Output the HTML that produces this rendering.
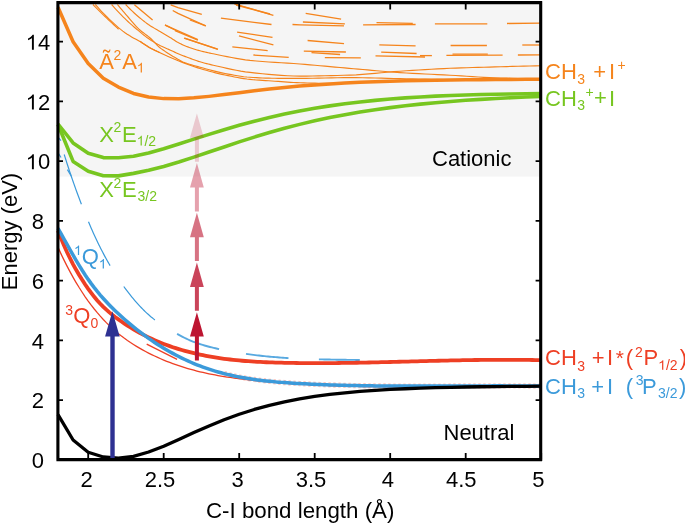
<!DOCTYPE html>
<html><head><meta charset="utf-8"><style>
html,body{margin:0;padding:0;background:#fff;}
svg{display:block;will-change:transform;}
text{font-family:"Liberation Sans",sans-serif;}
.t{opacity:0.999;}
</style></head><body>
<svg width="685" height="523" viewBox="0 0 685 523">
<rect x="59" y="4" width="481" height="172.6" fill="#f5f5f5"/>
<path d="M125.6,4.5 L126.99,5.94 L128.38,7.35 L129.76,8.74 L131.15,10.09 L132.54,11.42 L133.92,12.71 L135.31,13.97 L136.7,15.2 L138.16,16.47 L139.62,17.71 L141.09,18.93 L142.55,20.12 L144.01,21.28 L145.47,22.4 L146.94,23.47 L148.4,24.5 L149.85,25.47 L151.3,26.39 L152.75,27.27 L154.2,28.13 L155.65,28.97 L157.1,29.81 L158.55,30.65 L160,31.5 L161.25,32.24 L162.5,32.97 L163.75,33.7 L165,34.43 L166.25,35.16 L167.5,35.9 L168.75,36.64 L170,37.4 L171.03,38.04 L172.05,38.72 L173.07,39.4 L174.1,40.09 L175.12,40.76 L176.15,41.41 L177.17,42.03 L178.2,42.6 L179.4,43.22 L180.6,43.81 L181.8,44.39 L183,44.93 L184.2,45.46 L185.4,45.96 L186.6,46.44 L187.8,46.9 L189.33,47.46 L190.85,48 L192.38,48.52 L193.9,49.02 L195.43,49.49 L196.95,49.95 L198.47,50.38 L200,50.8 L201.65,51.23 L203.3,51.64 L204.95,52.03 L206.6,52.4 L208.25,52.76 L209.9,53.12 L211.55,53.46 L213.2,53.8 L217.8,54.75 L222.4,55.71 L227,56.65 L231.6,57.56 L236.2,58.41 L240.8,59.18 L245.4,59.85 L250,60.4 L256.25,61 L262.5,61.52 L268.75,61.96 L275,62.36 L281.25,62.74 L287.5,63.13 L293.75,63.54 L300,64 L305,64.41 L310,64.83 L315,65.26 L320,65.71 L325,66.16 L330,66.61 L335,67.06 L340,67.5 L344.56,67.9 L349.12,68.31 L353.69,68.71 L358.25,69.12 L362.81,69.52 L367.38,69.92 L371.94,70.31 L376.5,70.7 L379.44,70.95 L382.38,71.2 L385.31,71.46 L388.25,71.71 L391.19,71.95 L394.12,72.18 L397.06,72.4 L400,72.6 L406.25,72.99 L412.5,73.33 L418.75,73.66 L425,73.96 L431.25,74.26 L437.5,74.56 L443.75,74.87 L450,75.2 L455.62,75.53 L461.25,75.89 L466.88,76.26 L472.5,76.63 L478.12,76.99 L483.75,77.31 L489.38,77.59 L495,77.8 L500.75,77.98 L506.5,78.15 L512.25,78.32 L518,78.46 L523.75,78.59 L529.5,78.69 L535.25,78.76 L541,78.8" fill="none" stroke="#f5841c" stroke-width="1.15" stroke-linejoin="round" />
<path d="M111.6,4.5 L113.27,6.4 L114.95,8.27 L116.62,10.1 L118.3,11.9 L119.97,13.65 L121.65,15.37 L123.33,17.06 L125,18.7 L126.46,20.1 L127.92,21.47 L129.39,22.82 L130.85,24.14 L132.31,25.43 L133.77,26.7 L135.24,27.96 L136.7,29.2 L138.16,30.43 L139.62,31.66 L141.09,32.88 L142.55,34.08 L144.01,35.25 L145.47,36.38 L146.94,37.47 L148.4,38.5 L149.85,39.48 L151.3,40.43 L152.75,41.36 L154.2,42.25 L155.65,43.12 L157.1,43.95 L158.55,44.74 L160,45.5 L161.09,46.04 L162.18,46.55 L163.26,47.04 L164.35,47.52 L165.44,47.98 L166.52,48.45 L167.61,48.92 L168.7,49.4 L169.89,49.94 L171.07,50.49 L172.26,51.03 L173.45,51.58 L174.64,52.13 L175.82,52.66 L177.01,53.19 L178.2,53.7 L179.4,54.2 L180.6,54.7 L181.8,55.18 L183,55.66 L184.2,56.13 L185.4,56.59 L186.6,57.05 L187.8,57.5 L189.33,58.07 L190.85,58.64 L192.38,59.21 L193.9,59.77 L195.43,60.31 L196.95,60.83 L198.47,61.33 L200,61.8 L201.65,62.28 L203.3,62.74 L204.95,63.19 L206.6,63.62 L208.25,64.03 L209.9,64.43 L211.55,64.82 L213.2,65.2 L217.8,66.25 L222.4,67.31 L227,68.35 L231.6,69.34 L236.2,70.26 L240.8,71.1 L245.4,71.82 L250,72.4 L256.25,73.08 L262.5,73.75 L268.75,74.38 L275,74.94 L281.25,75.41 L287.5,75.78 L293.75,76.02 L300,76.1 L306.25,76.08 L312.5,76.02 L318.75,75.92 L325,75.8 L331.25,75.65 L337.5,75.48 L343.75,75.3 L350,75.1 L356.25,74.83 L362.5,74.42 L368.75,73.93 L375,73.37 L381.25,72.78 L387.5,72.2 L393.75,71.66 L400,71.2 L406.25,70.78 L412.5,70.37 L418.75,69.97 L425,69.59 L431.25,69.22 L437.5,68.88 L443.75,68.57 L450,68.3 L455.62,68.08 L461.25,67.89 L466.88,67.7 L472.5,67.53 L478.12,67.37 L483.75,67.21 L489.38,67.06 L495,66.9 L500.75,66.74 L506.5,66.58 L512.25,66.42 L518,66.27 L523.75,66.12 L529.5,65.98 L535.25,65.84 L541,65.7" fill="none" stroke="#f5841c" stroke-width="1.15" stroke-linejoin="round" />
<path d="M117.4,4.5 L118.79,6.16 L120.18,7.81 L121.56,9.45 L122.95,11.08 L124.34,12.7 L125.72,14.31 L127.11,15.91 L128.5,17.5 L129.81,19.02 L131.12,20.56 L132.44,22.1 L133.75,23.63 L135.06,25.12 L136.38,26.56 L137.69,27.93 L139,29.2 L140.46,30.5 L141.93,31.69 L143.39,32.82 L144.85,33.9 L146.31,34.98 L147.77,36.08 L149.24,37.25 L150.7,38.5 L151.75,39.49 L152.8,40.56 L153.85,41.68 L154.9,42.82 L155.95,43.95 L157,45.04 L158.05,46.07 L159.1,47 L160.3,47.97 L161.5,48.88 L162.7,49.74 L163.9,50.57 L165.1,51.37 L166.3,52.16 L167.5,52.93 L168.7,53.7 L169.89,54.46 L171.07,55.2 L172.26,55.93 L173.45,56.64 L174.64,57.35 L175.82,58.04 L177.01,58.72 L178.2,59.4 L178.8,59.74 L179.4,60.1 L180,60.45 L180.6,60.79 L181.2,61.13 L181.8,61.44 L182.4,61.74 L183,62 L185.12,62.83 L187.25,63.58 L189.38,64.26 L191.5,64.89 L193.62,65.48 L195.75,66.05 L197.88,66.62 L200,67.2 L203.12,68.07 L206.25,68.94 L209.38,69.79 L212.5,70.63 L215.62,71.42 L218.75,72.17 L221.88,72.87 L225,73.5 L228.12,74.1 L231.25,74.69 L234.38,75.26 L237.5,75.79 L240.62,76.28 L243.75,76.71 L246.88,77.05 L250,77.3 L253.12,77.49 L256.25,77.67 L259.38,77.83 L262.5,77.98 L265.62,78.1 L268.75,78.19 L271.88,78.26 L275,78.3 L278.12,78.32 L281.25,78.34 L284.38,78.36 L287.5,78.37 L290.62,78.38 L293.75,78.39 L296.88,78.4 L300,78.4 L306.25,78.37 L312.5,78.28 L318.75,78.15 L325,78 L331.25,77.85 L337.5,77.72 L343.75,77.63 L350,77.6 L356.25,77.63 L362.5,77.71 L368.75,77.83 L375,77.98 L381.25,78.14 L387.5,78.31 L393.75,78.47 L400,78.6 L406.25,78.73 L412.5,78.87 L418.75,79.02 L425,79.17 L431.25,79.3 L437.5,79.4 L443.75,79.47 L450,79.5 L461.38,79.5 L472.75,79.5 L484.12,79.48 L495.5,79.46 L506.88,79.43 L518.25,79.37 L529.62,79.3 L541,79.2" fill="none" stroke="#f5841c" stroke-width="1.15" stroke-linejoin="round" />
<path d="M95.3,4.5 L96.83,6.24 L98.35,7.95 L99.88,9.63 L101.4,11.28 L102.92,12.9 L104.45,14.47 L105.97,16.01 L107.5,17.5 L109.69,19.6 L111.88,21.66 L114.06,23.69 L116.25,25.66 L118.44,27.56 L120.62,29.37 L122.81,31.09 L125,32.7 L127.2,34.19 L129.4,35.58 L131.6,36.88 L133.8,38.14 L136,39.37 L138.2,40.6 L140.4,41.87 L142.6,43.2 L143.47,43.76 L144.35,44.33 L145.22,44.92 L146.1,45.5 L146.97,46.08 L147.85,46.65 L148.72,47.19 L149.6,47.7 L150.9,48.41 L152.2,49.09 L153.5,49.74 L154.8,50.37 L156.1,50.99 L157.4,51.59 L158.7,52.2 L160,52.8 L161.09,53.31 L162.18,53.81 L163.26,54.3 L164.35,54.79 L165.44,55.27 L166.52,55.75 L167.61,56.23 L168.7,56.7 L170.49,57.47 L172.27,58.24 L174.06,58.99 L175.85,59.75 L177.64,60.48 L179.43,61.21 L181.21,61.91 L183,62.6 L185.12,63.4 L187.25,64.19 L189.38,64.96 L191.5,65.72 L193.62,66.45 L195.75,67.16 L197.88,67.85 L200,68.5 L203.12,69.43 L206.25,70.32 L209.38,71.19 L212.5,72.03 L215.62,72.83 L218.75,73.6 L221.88,74.32 L225,75 L228.12,75.66 L231.25,76.31 L234.38,76.94 L237.5,77.54 L240.62,78.09 L243.75,78.6 L246.88,79.04 L250,79.4 L253.12,79.7 L256.25,79.96 L259.38,80.19 L262.5,80.41 L265.62,80.61 L268.75,80.8 L271.88,81 L275,81.2 L278.12,81.42 L281.25,81.66 L284.38,81.9 L287.5,82.13 L290.62,82.34 L293.75,82.53 L296.88,82.69 L300,82.8 L303.75,82.9 L307.5,82.99 L311.25,83.08 L315,83.15 L318.75,83.21 L322.5,83.26 L326.25,83.29 L330,83.3 L335,83.25 L340,83.11 L345,82.91 L350,82.67 L355,82.41 L360,82.16 L365,81.95 L370,81.8 L391.38,81.31 L412.75,80.85 L434.12,80.43 L455.5,80.06 L476.88,79.74 L498.25,79.51 L519.62,79.35 L541,79.3" fill="none" stroke="#f5841c" stroke-width="1.15" stroke-linejoin="round" />
<path d="M92.9,4.5 L94.41,6.04 L95.93,7.56 L97.44,9.08 L98.95,10.59 L100.46,12.08 L101.97,13.57 L103.49,15.04 L105,16.5 L106.7,18.13 L108.4,19.75 L110.1,21.36 L111.8,22.95 L113.5,24.53 L115.2,26.1 L116.9,27.66 L118.6,29.2" fill="none" stroke="#f5841c" stroke-width="1.15" stroke-linejoin="round" />
<path d="M140,41.2 L141.2,42.08 L142.4,42.93 L143.6,43.77 L144.8,44.57 L146,45.35 L147.2,46.1 L148.4,46.82 L149.6,47.5 L150.9,48.21 L152.2,48.9 L153.5,49.57 L154.8,50.22 L156.1,50.83 L157.4,51.42 L158.7,51.98 L160,52.5" fill="none" stroke="#f5841c" stroke-width="1.15" stroke-linejoin="round" />
<g fill="none" stroke="#f5841c" stroke-width="1.3">
<path d="M134.4,4.8 L152.6,20.1"/>
<path d="M165,24.8 L178,31.5"/>
<path d="M170.7,4.8 L178,7.6 L201.8,14.3"/>
<path d="M172.7,10.5 L178,13.4 L205.6,25.8"/>
<path d="M175,30.6 L197.9,40.1"/>
<path d="M184.6,38.2 L218,49.3"/>
<path d="M165,25.1 L197.9,39.7"/>
<path d="M184,38.2 L217.6,49.2"/>
<path d="M189.9,20 L205.9,25.8"/>
<path d="M234.3,3.8 L273.4,15.3"/>
<path d="M236,5 L270,14"/>
<path d="M220.9,18.2 L271.5,24.5"/>
<path d="M237.1,32.1 L272.5,37.3"/>
<path d="M239,35.9 L273.4,44.9"/>
<path d="M232.3,46.8 L267.7,50.6"/>
<path d="M253.4,55 L288.7,57.3"/>
<path d="M292.5,24.5 L300,24.8 L344,25.8"/>
<path d="M305.7,13.4 L341.1,19.1"/>
<path d="M302.9,22 L344.9,23.9"/>
<path d="M363.1,24.8 L415.6,24.5"/>
<path d="M376.5,22.6 L412.8,23.3"/>
<path d="M307.6,40.5 L344,43.6"/>
<path d="M379.3,44.9 L415.6,45.9"/>
<path d="M303.8,51.2 L345.9,52"/>
<path d="M311.5,52.6 L340.1,54.5"/>
<path d="M324.8,57.7 L360.8,57.9"/>
<path d="M381.2,52.2 L416.6,53.5"/>
<path d="M375.5,55.8 L425,57"/>
<path d="M434.9,23.9 L487.3,23.9"/>
<path d="M507,23.5 L540,23.2"/>
<path d="M450.6,45.5 L486.9,45.5"/>
<path d="M522.3,45 L540,45"/>
<path d="M420,55.6 L431.9,55.6"/>
<path d="M446.4,55.4 L502.6,55.2"/>
<path d="M517.9,55 L540,54.8"/>
<path d="M452.5,54.1 L487.8,54.1"/>
</g>
<path d="M58,7.3 L73.1,41.8 L88.2,63.5 L103.3,78.3 L118.4,87.1 L133.5,93.44 L148.6,97.02 L163.7,98.62 L178.8,98.74 L193.9,97.86 L209,96.37 L224.1,94.56 L239.2,92.65 L254.3,90.79 L269.4,89.05 L284.5,87.48 L299.6,86.1 L314.7,84.91 L329.8,83.9 L344.9,83.04 L360,82.32 L375.1,81.73 L390.2,81.23 L405.3,80.83 L420.4,80.49 L435.5,80.22 L450.6,80 L465.7,79.81 L480.8,79.66 L495.9,79.54 L511,79.44 L526.1,79.36 L541.2,79.3" fill="none" stroke="#f5841c" stroke-width="3.5" stroke-linejoin="round"/>
<path d="M58,124 L73.1,142.9 L88.2,153.2 L103.3,157.6 L118.4,157.8 L133.5,156.24 L148.6,152.9 L163.7,148.69 L178.8,144.01 L193.9,139.16 L209,134.34 L224.1,129.69 L239.2,125.29 L254.3,121.2 L269.4,117.44 L284.5,114.03 L299.6,110.97 L314.7,108.25 L329.8,105.85 L344.9,103.75 L360,101.93 L375.1,100.36 L390.2,99.02 L405.3,97.89 L420.4,96.93 L435.5,96.14 L450.6,95.48 L465.7,94.95 L480.8,94.52 L495.9,94.19 L511,93.93 L526.1,93.73 L541.2,93.6" fill="none" stroke="#77c620" stroke-width="3.6" stroke-linejoin="round"/>
<path d="M58,124.5 L73.1,161.4 L88.2,171.2 L103.3,175.7 L118.4,175.9 L133.5,173.38 L148.6,170.28 L163.7,166.41 L178.8,161.95 L193.9,157.1 L209,152.03 L224.1,146.92 L239.2,141.91 L254.3,137.09 L269.4,132.53 L284.5,128.28 L299.6,124.37 L314.7,120.8 L329.8,117.56 L344.9,114.65 L360,112.03 L375.1,109.7 L390.2,107.62 L405.3,105.78 L420.4,104.15 L435.5,102.71 L450.6,101.44 L465.7,100.32 L480.8,99.34 L495.9,98.48 L511,97.72 L526.1,97.05 L541.2,96.47" fill="none" stroke="#77c620" stroke-width="3.6" stroke-linejoin="round"/>
<g fill="none" stroke="#3b9ada" stroke-width="1.2">
<path d="M58.4,137.6 L61,140.7"/>
<path d="M58.2,153 L61,157.5"/>
<path d="M64.2,154.51 L64.95,156.91 L65.7,159.29 L66.44,161.64 L67.19,163.97 L67.94,166.28 L68.69,168.56 L69.43,170.82 L70.18,173.05 L70.93,175.27 L71.68,177.46 L72.43,179.63 L73.17,181.78 L73.92,183.91 L74.67,186.02 L75.42,188.11 L76.17,190.18 L76.91,192.23 L77.66,194.26 L78.41,196.28 L79.16,198.28 L79.9,200.26 L80.65,202.22 L81.4,204.17"/>
<path d="M67.4,169.6 L71.2,175.9"/>
<path d="M88.5,221.84 L89.44,224.06 L90.38,226.25 L91.32,228.41 L92.26,230.55 L93.2,232.65 L94.13,234.73 L95.07,236.78 L96.01,238.8 L96.95,240.78 L97.89,242.74 L98.83,244.66 L99.77,246.56 L100.71,248.43 L101.65,250.27 L102.59,252.08 L103.53,253.87 L104.47,255.63 L105.4,257.36 L106.34,259.06 L107.28,260.74 L108.22,262.39 L109.16,264.02 L110.1,265.62"/>
<path d="M123.8,286.51 L125.15,288.35 L126.5,290.15 L127.86,291.91 L129.21,293.65 L130.56,295.35 L131.91,297.02 L133.27,298.66 L134.62,300.27 L135.97,301.84 L137.32,303.38 L138.67,304.89 L140.03,306.35 L141.38,307.78 L142.73,309.17 L144.08,310.52 L145.43,311.83 L146.79,313.1 L148.14,314.32 L149.49,315.51 L150.84,316.67 L152.2,317.78 L153.55,318.87 L154.9,319.92"/>
</g>
<g fill="none" stroke="#3b9ada" stroke-width="1.9" stroke-opacity="0.85">
<path d="M177.1,333.93 L178.93,334.93 L180.75,335.9 L182.58,336.85 L184.4,337.77 L186.23,338.65 L188.06,339.49 L189.88,340.29 L191.71,341.05 L193.53,341.78 L195.36,342.47 L197.19,343.12 L199.01,343.75 L200.84,344.35 L202.67,344.92 L204.49,345.47 L206.32,345.99 L208.14,346.48 L209.97,346.96 L211.8,347.42 L213.62,347.86 L215.45,348.29 L217.27,348.7 L219.1,349.11"/>
<path d="M246,353.91 L247.85,354.17 L249.7,354.42 L251.54,354.66 L253.39,354.9 L255.24,355.13 L257.09,355.35 L258.93,355.56 L260.78,355.77 L262.63,355.97 L264.48,356.16 L266.33,356.34 L268.17,356.52 L270.02,356.69 L271.87,356.86 L273.72,357.02 L275.57,357.17 L277.41,357.32 L279.26,357.46 L281.11,357.59 L282.96,357.72 L284.8,357.84 L286.65,357.96 L288.5,358.08"/>
<path d="M318.9,359.33 L320.68,359.37 L322.46,359.41 L324.23,359.45 L326.01,359.49 L327.79,359.53 L329.57,359.56 L331.35,359.59 L333.13,359.63 L334.9,359.66 L336.68,359.68 L338.46,359.71 L340.24,359.74 L342.02,359.76 L343.8,359.79 L345.57,359.81 L347.35,359.83 L349.13,359.85 L350.91,359.88 L352.69,359.9 L354.47,359.92 L356.24,359.94 L358.02,359.97 L359.8,359.99"/>
</g>
<path d="M58,247.34 L61.02,253.89 L64.04,260.15 L67.06,266.14 L70.08,271.87 L73.1,277.33 L76.12,282.55 L79.14,287.52 L82.16,292.25 L85.18,296.76 L88.2,301.05 L91.22,305.13 L94.24,309.01 L97.26,312.69 L100.28,316.18 L103.3,319.49 L106.32,322.63 L109.34,325.61 L112.36,328.44 L115.38,331.11 L118.4,333.65 L121.42,336.05 L124.44,338.33 L127.46,340.49 L130.48,342.55 L133.5,344.5 L136.52,346.37 L139.54,348.15 L142.56,349.85 L145.58,351.49 L148.6,353.06 L151.62,354.57 L154.64,356.03 L157.66,357.42 L160.68,358.76 L163.7,360.05 L166.72,361.28 L169.74,362.47 L172.76,363.6 L175.78,364.68 L178.8,365.72 L181.82,366.71 L184.84,367.65 L187.86,368.55 L190.88,369.41 L193.9,370.24 L196.92,371.02 L199.94,371.76 L202.96,372.47 L205.98,373.15 L209,373.79 L212.02,374.4 L215.04,374.98 L218.06,375.53 L221.08,376.05 L224.1,376.55 L227.12,377.03 L230.14,377.48 L233.16,377.91 L236.18,378.32 L239.2,378.71 L242.22,379.08 L245.24,379.44 L248.26,379.78 L251.28,380.11 L254.3,380.43 L257.32,380.74 L260.34,381.04 L263.36,381.33 L266.38,381.61 L269.4,381.88 L272.42,382.14 L275.44,382.39 L278.46,382.64 L281.48,382.87 L284.5,383.1 L287.52,383.32 L290.54,383.53 L293.56,383.73 L296.58,383.93 L299.6,384.11 L302.62,384.29 L305.64,384.46 L308.66,384.63 L311.68,384.78 L314.7,384.93 L317.72,385.07 L320.74,385.21 L323.76,385.34 L326.78,385.46 L329.8,385.58 L332.82,385.69 L335.84,385.79 L338.86,385.89 L341.88,385.98 L344.9,386.07 L347.92,386.15 L350.94,386.22 L353.96,386.29 L356.98,386.36 L360,386.42 L363.02,386.48 L366.04,386.53 L369.06,386.57 L372.08,386.62 L375.1,386.65 L378.12,386.69 L381.14,386.72 L384.16,386.74 L387.18,386.76 L390.2,386.78 L393.22,386.8 L396.24,386.81 L399.26,386.82 L402.28,386.83 L405.3,386.83 L408.32,386.83 L411.34,386.83 L414.36,386.83 L417.38,386.82 L420.4,386.81 L423.42,386.8 L426.44,386.79 L429.46,386.78 L432.48,386.76 L435.5,386.75 L438.52,386.73 L441.54,386.71 L444.56,386.69 L447.58,386.67 L450.6,386.65 L453.62,386.63 L456.64,386.61 L459.66,386.59 L462.68,386.56 L465.7,386.54 L468.72,386.52 L471.74,386.5 L474.76,386.48 L477.78,386.46 L480.8,386.44 L483.82,386.42 L486.84,386.41 L489.86,386.39 L492.88,386.38 L495.9,386.37 L498.92,386.35 L501.94,386.35 L504.96,386.34 L507.98,386.33 L511,386.33 L514.02,386.33 L517.04,386.33 L520.06,386.34 L523.08,386.35 L526.1,386.36 L529.12,386.37 L532.14,386.39 L535.16,386.41 L538.18,386.43 L541.2,386.46" fill="none" stroke="#ee3f24" stroke-width="1.3"/>
<path d="M146.7,344.2 L177.1,359.4" fill="none" stroke="#ee3f24" stroke-width="1.3"/>
<path d="M58,230.64 L61.02,238.34 L64.04,245.52 L67.06,252.21 L70.08,258.46 L73.1,264.32 L76.12,269.81 L79.14,274.97 L82.16,279.85 L85.18,284.46 L88.2,288.84 L91.22,292.97 L94.24,296.84 L97.26,300.45 L100.28,303.78 L103.3,306.85 L106.32,309.7 L109.34,312.35 L112.36,314.82 L115.38,317.16 L118.4,319.39 L121.42,321.53 L124.44,323.59 L127.46,325.57 L130.48,327.47 L133.5,329.3 L136.52,331.06 L139.54,332.74 L142.56,334.36 L145.58,335.91 L148.6,337.4 L151.62,338.82 L154.64,340.18 L157.66,341.48 L160.68,342.73 L163.7,343.92 L166.72,345.06 L169.74,346.14 L172.76,347.18 L175.78,348.17 L178.8,349.11 L181.82,350.01 L184.84,350.87 L187.86,351.68 L190.88,352.46 L193.9,353.2 L196.92,353.91 L199.94,354.58 L202.96,355.21 L205.98,355.81 L209,356.38 L212.02,356.91 L215.04,357.42 L218.06,357.89 L221.08,358.34 L224.1,358.76 L227.12,359.15 L230.14,359.51 L233.16,359.85 L236.18,360.17 L239.2,360.46 L242.22,360.74 L245.24,360.99 L248.26,361.22 L251.28,361.43 L254.3,361.62 L257.32,361.8 L260.34,361.96 L263.36,362.11 L266.38,362.24 L269.4,362.36 L272.42,362.47 L275.44,362.56 L278.46,362.65 L281.48,362.72 L284.5,362.79 L287.52,362.85 L290.54,362.91 L293.56,362.96 L296.58,363 L299.6,363.03 L302.62,363.06 L305.64,363.09 L308.66,363.1 L311.68,363.12 L314.7,363.12 L317.72,363.12 L320.74,363.12 L323.76,363.11 L326.78,363.1 L329.8,363.08 L332.82,363.06 L335.84,363.03 L338.86,363 L341.88,362.96 L344.9,362.93 L347.92,362.88 L350.94,362.84 L353.96,362.79 L356.98,362.74 L360,362.68 L363.02,362.62 L366.04,362.56 L369.06,362.5 L372.08,362.43 L375.1,362.37 L378.12,362.3 L381.14,362.22 L384.16,362.15 L387.18,362.08 L390.2,362 L393.22,361.92 L396.24,361.85 L399.26,361.77 L402.28,361.69 L405.3,361.61 L408.32,361.53 L411.34,361.45 L414.36,361.37 L417.38,361.29 L420.4,361.21 L423.42,361.13 L426.44,361.05 L429.46,360.97 L432.48,360.9 L435.5,360.82 L438.52,360.75 L441.54,360.67 L444.56,360.6 L447.58,360.53 L450.6,360.47 L453.62,360.4 L456.64,360.34 L459.66,360.28 L462.68,360.22 L465.7,360.17 L468.72,360.12 L471.74,360.07 L474.76,360.02 L477.78,359.98 L480.8,359.94 L483.82,359.91 L486.84,359.88 L489.86,359.86 L492.88,359.83 L495.9,359.82 L498.92,359.8 L501.94,359.8 L504.96,359.79 L507.98,359.8 L511,359.81 L514.02,359.82 L517.04,359.84 L520.06,359.86 L523.08,359.89 L526.1,359.93 L529.12,359.97 L532.14,360.02 L535.16,360.08 L538.18,360.14 L541.2,360.22" fill="none" stroke="#ee3f24" stroke-width="3.8"/>
<path d="M224.1,373.59 L227.12,374.35 L230.14,375.06 L233.16,375.74 L236.18,376.38 L239.2,376.98 L242.22,377.54 L245.24,378.08 L248.26,378.58 L251.28,379.05 L254.3,379.49 L257.32,379.9 L260.34,380.29 L263.36,380.65 L266.38,380.99 L269.4,381.31 L272.42,381.6 L275.44,381.88 L278.46,382.14 L281.48,382.38 L284.5,382.6 L287.52,382.81 L290.54,383.01 L293.56,383.2 L296.58,383.38 L299.6,383.55 L302.62,383.71 L305.64,383.87 L308.66,384.01 L311.68,384.16 L314.7,384.29 L317.72,384.42 L320.74,384.55 L323.76,384.67 L326.78,384.78 L329.8,384.88 L332.82,384.99 L335.84,385.08 L338.86,385.17 L341.88,385.26 L344.9,385.34 L347.92,385.41 L350.94,385.48 L353.96,385.55 L356.98,385.61 L360,385.67 L363.02,385.72 L366.04,385.77 L369.06,385.81 L372.08,385.86 L375.1,385.89 L378.12,385.93 L381.14,385.96 L384.16,385.98 L387.18,386.01 L390.2,386.03 L393.22,386.05 L396.24,386.06 L399.26,386.08 L402.28,386.09 L405.3,386.09 L408.32,386.1 L411.34,386.1 L414.36,386.1 L417.38,386.1 L420.4,386.1 L423.42,386.1 L426.44,386.09 L429.46,386.08 L432.48,386.08 L435.5,386.07 L438.52,386.06 L441.54,386.05 L444.56,386.04 L447.58,386.03 L450.6,386.01 L453.62,386 L456.64,385.99 L459.66,385.98 L462.68,385.96 L465.7,385.95 L468.72,385.94 L471.74,385.93 L474.76,385.92 L477.78,385.91 L480.8,385.9 L483.82,385.89 L486.84,385.88 L489.86,385.88 L492.88,385.87 L495.9,385.87 L498.92,385.87 L501.94,385.87 L504.96,385.88 L507.98,385.88 L511,385.89 L514.02,385.9 L517.04,385.91 L520.06,385.93 L523.08,385.94 L526.1,385.96 L529.12,385.99 L532.14,386.01 L535.16,386.04 L538.18,386.08 L541.2,386.12" fill="none" stroke="#ee3f24" stroke-width="5.3" stroke-dasharray="2.4 2.6" stroke-opacity="0.3"/>
<path d="M58,228.45 L61.02,233.7 L64.04,239.03 L67.06,244.4 L70.08,249.77 L73.1,255.09 L76.12,260.31 L79.14,265.39 L82.16,270.29 L85.18,274.95 L88.2,279.38 L91.22,283.59 L94.24,287.59 L97.26,291.4 L100.28,295.03 L103.3,298.49 L106.32,301.8 L109.34,304.97 L112.36,308.02 L115.38,310.95 L118.4,313.79 L121.42,316.55 L124.44,319.24 L127.46,321.86 L130.48,324.41 L133.5,326.9 L136.52,329.31 L139.54,331.67 L142.56,333.95 L145.58,336.18 L148.6,338.33 L151.62,340.43 L154.64,342.46 L157.66,344.44 L160.68,346.35 L163.7,348.2 L166.72,349.99 L169.74,351.72 L172.76,353.39 L175.78,355.01 L178.8,356.57 L181.82,358.07 L184.84,359.52 L187.86,360.91 L190.88,362.25 L193.9,363.53 L196.92,364.76 L199.94,365.94 L202.96,367.07 L205.98,368.14 L209,369.17 L212.02,370.14 L215.04,371.07 L218.06,371.96 L221.08,372.8 L224.1,373.59 L227.12,374.35 L230.14,375.06 L233.16,375.74 L236.18,376.38 L239.2,376.98 L242.22,377.54 L245.24,378.08 L248.26,378.58 L251.28,379.05 L254.3,379.49 L257.32,379.9 L260.34,380.29 L263.36,380.65 L266.38,380.99 L269.4,381.31 L272.42,381.6 L275.44,381.88 L278.46,382.14 L281.48,382.38 L284.5,382.6 L287.52,382.81 L290.54,383.01 L293.56,383.2 L296.58,383.38 L299.6,383.55 L302.62,383.71 L305.64,383.87 L308.66,384.01 L311.68,384.16 L314.7,384.29 L317.72,384.42 L320.74,384.55 L323.76,384.67 L326.78,384.78 L329.8,384.88 L332.82,384.99 L335.84,385.08 L338.86,385.17 L341.88,385.26 L344.9,385.34 L347.92,385.41 L350.94,385.48 L353.96,385.55 L356.98,385.61 L360,385.67 L363.02,385.72 L366.04,385.77 L369.06,385.81 L372.08,385.86 L375.1,385.89 L378.12,385.93 L381.14,385.96 L384.16,385.98 L387.18,386.01 L390.2,386.03 L393.22,386.05 L396.24,386.06 L399.26,386.08 L402.28,386.09 L405.3,386.09 L408.32,386.1 L411.34,386.1 L414.36,386.1 L417.38,386.1 L420.4,386.1 L423.42,386.1 L426.44,386.09 L429.46,386.08 L432.48,386.08 L435.5,386.07 L438.52,386.06 L441.54,386.05 L444.56,386.04 L447.58,386.03 L450.6,386.01 L453.62,386 L456.64,385.99 L459.66,385.98 L462.68,385.96 L465.7,385.95 L468.72,385.94 L471.74,385.93 L474.76,385.92 L477.78,385.91 L480.8,385.9 L483.82,385.89 L486.84,385.88 L489.86,385.88 L492.88,385.87 L495.9,385.87 L498.92,385.87 L501.94,385.87 L504.96,385.88 L507.98,385.88 L511,385.89 L514.02,385.9 L517.04,385.91 L520.06,385.93 L523.08,385.94 L526.1,385.96 L529.12,385.99 L532.14,386.01 L535.16,386.04 L538.18,386.08 L541.2,386.12" fill="none" stroke="#3b9ada" stroke-width="3.5"/>
<path d="M58,414.6 L73.1,440 L88.2,452.2 L103.3,457 L118.4,458.2 L133.5,456.33 L148.6,452.02 L163.7,446.17 L178.8,439.5 L193.9,432.62 L209,425.97 L224.1,419.81 L239.2,414.29 L254.3,409.46 L269.4,405.32 L284.5,401.81 L299.6,398.87 L314.7,396.44 L329.8,394.43 L344.9,392.78 L360,391.44 L375.1,390.35 L390.2,389.46 L405.3,388.74 L420.4,388.16 L435.5,387.7 L450.6,387.32 L465.7,387.01 L480.8,386.77 L495.9,386.57 L511,386.42 L526.1,386.29 L541.2,386.19" fill="none" stroke="#000000" stroke-width="3.3" stroke-linejoin="round"/>
<rect x="110.3" y="334" width="4.4" height="125" fill="#2e3192"/>
<polygon points="105.1,336.5 119.7,336.5 112.4,311.2" fill="#2e3192"/>
<g fill="#bd1531" fill-opacity="1.0"><path d="M194.9,360.5 V336.6 H190 L196.9,312.2 L203.8,336.6 H198.9 V360.5 Z"/></g>
<g fill="#bd1531" fill-opacity="0.8"><path d="M194.9,310.8 V286.9 H190 L196.9,262.5 L203.8,286.9 H198.9 V310.8 Z"/></g>
<g fill="#bd1531" fill-opacity="0.6"><path d="M194.9,261.1 V237.2 H190 L196.9,212.8 L203.8,237.2 H198.9 V261.1 Z"/></g>
<g fill="#bd1531" fill-opacity="0.4"><path d="M194.9,211.4 V187.5 H190 L196.9,163.1 L203.8,187.5 H198.9 V211.4 Z"/></g>
<g fill="#bd1531" fill-opacity="0.2"><path d="M194.9,161.7 V137.8 H190 L196.9,113.4 L203.8,137.8 H198.9 V161.7 Z"/></g>
<path d="M57.9,1.3 L57.9,459.8 M56.4,459.6 L542.1,459.6 M540.7,461 L540.7,1.3 M56.5,2.6 L542.1,2.6" fill="none" stroke="#000" stroke-width="3.1"/>
<path d="M57.9,459.8 L63,459.8 M540.7,459.8 L535.6,459.8 M57.9,400.06 L63,400.06 M540.7,400.06 L535.6,400.06 M57.9,340.32 L63,340.32 M540.7,340.32 L535.6,340.32 M57.9,280.58 L63,280.58 M540.7,280.58 L535.6,280.58 M57.9,220.84 L63,220.84 M540.7,220.84 L535.6,220.84 M57.9,161.1 L63,161.1 M540.7,161.1 L535.6,161.1 M57.9,101.36 L63,101.36 M540.7,101.36 L535.6,101.36 M57.9,41.62 L63,41.62 M540.7,41.62 L535.6,41.62 M88.2,459.6 L88.2,452.9 M163.7,459.6 L163.7,452.9 M163.7,2.6 L163.7,9.6 M239.2,459.6 L239.2,452.9 M239.2,2.6 L239.2,9.6 M314.7,459.6 L314.7,452.9 M314.7,2.6 L314.7,9.6 M390.2,459.6 L390.2,452.9 M390.2,2.6 L390.2,9.6 M465.7,459.6 L465.7,452.9 M465.7,2.6 L465.7,9.6 M541.2,459.6 L541.2,452.9" fill="none" stroke="#000" stroke-width="1.8"/>
<g class="t" fill="#000"><g transform="translate(0,468) scale(1,1.0)"><text x="31.78" y="0" font-size="22" fill="#000">0</text></g><g transform="translate(0,408.26) scale(1,1.0)"><text x="31.78" y="0" font-size="22" fill="#000">2</text></g><g transform="translate(0,348.52) scale(1,1.0)"><text x="31.78" y="0" font-size="22" fill="#000">4</text></g><g transform="translate(0,288.78) scale(1,1.0)"><text x="31.78" y="0" font-size="22" fill="#000">6</text></g><g transform="translate(0,229.04) scale(1,1.0)"><text x="31.78" y="0" font-size="22" fill="#000">8</text></g><g transform="translate(0,169.3) scale(1,1.0)"><path d="M763,0 H583 V1147 Q518,1085 412,1023 Q305,961 220,930 V1104 Q371,1175 484,1276 Q597,1377 644,1472 H763 Z" fill="#000" transform="translate(25.66,0) scale(0.01074,-0.01028)"/><text x="37.9" y="0" font-size="22" fill="#000">0</text></g><g transform="translate(0,109.56) scale(1,1.0)"><path d="M763,0 H583 V1147 Q518,1085 412,1023 Q305,961 220,930 V1104 Q371,1175 484,1276 Q597,1377 644,1472 H763 Z" fill="#000" transform="translate(25.66,0) scale(0.01074,-0.01028)"/><text x="37.9" y="0" font-size="22" fill="#000">2</text></g><g transform="translate(0,49.82) scale(1,1.0)"><path d="M763,0 H583 V1147 Q518,1085 412,1023 Q305,961 220,930 V1104 Q371,1175 484,1276 Q597,1377 644,1472 H763 Z" fill="#000" transform="translate(25.66,0) scale(0.01074,-0.01028)"/><text x="37.9" y="0" font-size="22" fill="#000">4</text></g><g transform="translate(0,487.4) scale(1,1.0)"><text x="80.58" y="0" font-size="22" fill="#000">2</text></g><g transform="translate(0,487.4) scale(1,1.0)"><text x="144.71" y="0" font-size="22" fill="#000">2.5</text></g><g transform="translate(0,487.4) scale(1,1.0)"><text x="231.38" y="0" font-size="22" fill="#000">3</text></g><g transform="translate(0,487.4) scale(1,1.0)"><text x="295.71" y="0" font-size="22" fill="#000">3.5</text></g><g transform="translate(0,487.4) scale(1,1.0)"><text x="381.78" y="0" font-size="22" fill="#000">4</text></g><g transform="translate(0,487.4) scale(1,1.0)"><text x="445.91" y="0" font-size="22" fill="#000">4.5</text></g><g transform="translate(0,487.4) scale(1,1.0)"><text x="532.28" y="0" font-size="22" fill="#000">5</text></g><g transform="translate(206,517.6) scale(1,1)"><text x="0" y="0" font-size="22.3">C-I bond length (Å)</text></g><text transform="translate(16.5,231.5) rotate(-90) scale(1,1)" text-anchor="middle" font-size="22">Energy (eV)</text><g transform="translate(432,165.5) scale(1,1)"><text x="0" y="0" font-size="22">Cationic</text></g><g transform="translate(443.5,439.7) scale(1,1)"><text x="0" y="0" font-size="22">Neutral</text></g></g>
<g class="t"><g transform="translate(0,68.5) scale(1,1.0)"><text x="99.36" y="0" font-size="22" fill="#f5841c">Ã</text></g><g transform="translate(0,59.6) scale(1,1.0)"><text x="113.6" y="0" font-size="14" fill="#f5841c">2</text></g><g transform="translate(0,68.5) scale(1,1.0)"><text x="122.26" y="0" font-size="22" fill="#f5841c">A</text></g><g transform="translate(0,72.5) scale(1,1.0)"><path d="M763,0 H583 V1147 Q518,1085 412,1023 Q305,961 220,930 V1104 Q371,1175 484,1276 Q597,1377 644,1472 H763 Z" fill="#f5841c" transform="translate(136.7,0) scale(0.00684,-0.00654)"/></g></g>
<g class="t"><g transform="translate(0,141.5) scale(1,1.0)"><text x="99.31" y="0" font-size="22" fill="#77c620">X</text></g><g transform="translate(0,132) scale(1,1.0)"><text x="113.4" y="0" font-size="14" fill="#77c620">2</text></g><g transform="translate(0,141.5) scale(1,1.0)"><text x="122" y="0" font-size="22" fill="#77c620">E</text></g><g transform="translate(0,145.5) scale(1,1.0)"><path d="M763,0 H583 V1147 Q518,1085 412,1023 Q305,961 220,930 V1104 Q371,1175 484,1276 Q597,1377 644,1472 H763 Z" fill="#77c620" transform="translate(136.6,0) scale(0.00684,-0.00654)"/><text x="144.38" y="0" font-size="14" fill="#77c620">/2</text></g></g>
<g class="t"><g transform="translate(0,197.3) scale(1,1.0)"><text x="99.31" y="0" font-size="22" fill="#77c620">X</text></g><g transform="translate(0,188) scale(1,1.0)"><text x="113.4" y="0" font-size="14" fill="#77c620">2</text></g><g transform="translate(0,197.3) scale(1,1.0)"><text x="122" y="0" font-size="22" fill="#77c620">E</text></g><g transform="translate(0,201.4) scale(1,1.0)"><text x="137.57" y="0" font-size="14" fill="#77c620">3/2</text></g></g>
<g class="t"><g transform="translate(0,255.1) scale(1,1.0)"><path d="M763,0 H583 V1147 Q518,1085 412,1023 Q305,961 220,930 V1104 Q371,1175 484,1276 Q597,1377 644,1472 H763 Z" fill="#3b9ada" transform="translate(73.9,0) scale(0.00684,-0.00654)"/></g><g transform="translate(0,263.8) scale(1,1.0)"><text x="81.66" y="0" font-size="22" fill="#3b9ada">Q</text></g><g transform="translate(0,268.6) scale(1,1.0)"><path d="M763,0 H583 V1147 Q518,1085 412,1023 Q305,961 220,930 V1104 Q371,1175 484,1276 Q597,1377 644,1472 H763 Z" fill="#3b9ada" transform="translate(98.7,0) scale(0.00684,-0.00654)"/></g></g>
<g class="t"><g transform="translate(0,315) scale(1,1.0)"><text x="65.27" y="0" font-size="14" fill="#ee3f24">3</text></g><g transform="translate(0,323.4) scale(1,1.0)"><text x="73.36" y="0" font-size="22" fill="#ee3f24">Q</text></g><g transform="translate(0,327.9) scale(1,1.0)"><text x="90.55" y="0" font-size="14" fill="#ee3f24">0</text></g></g>
<g class="t"><g transform="translate(0,79.2) scale(1,1.0)"><text x="545.08" y="0" font-size="22" fill="#f5841c">CH</text></g><g transform="translate(0,83.9) scale(1,1.0)"><text x="577.37" y="0" font-size="14" fill="#f5841c">3</text></g><g transform="translate(0,79) scale(1,1.0)"><text x="593.23" y="0" font-size="22" fill="#f5841c">+</text></g><g transform="translate(0,79.2) scale(1,1.0)"><text x="609.07" y="0" font-size="22" fill="#f5841c">I</text></g><g transform="translate(0,69.8) scale(1,1.0)"><text x="617.52" y="0" font-size="14" fill="#f5841c">+</text></g></g>
<g class="t"><g transform="translate(0,106) scale(1,1.0)"><text x="545.08" y="0" font-size="22" fill="#77c620">CH</text></g><g transform="translate(0,110.4) scale(1,1.0)"><text x="577.37" y="0" font-size="14" fill="#77c620">3</text></g><g transform="translate(0,97.4) scale(1,1.0)"><text x="585.62" y="0" font-size="14" fill="#77c620">+</text></g><g transform="translate(0,105.4) scale(1,1.0)"><text x="593.93" y="0" font-size="22" fill="#77c620">+</text></g><g transform="translate(0,106) scale(1,1.0)"><text x="609.07" y="0" font-size="22" fill="#77c620">I</text></g></g>
<g class="t"><g transform="translate(0,365.1) scale(1,1.0)"><text x="545.08" y="0" font-size="22" fill="#ee3f24">CH</text></g><g transform="translate(0,370.7) scale(1,1.0)"><text x="577.37" y="0" font-size="14" fill="#ee3f24">3</text></g><g transform="translate(0,364.6) scale(1,1.0)"><text x="591.73" y="0" font-size="22" fill="#ee3f24">+</text></g><g transform="translate(0,365) scale(1,1.0)"><text x="606.97" y="0" font-size="22" fill="#ee3f24">I</text></g><g transform="translate(0,364.8) scale(1,1.0)"><text x="615.66" y="0" font-size="21" fill="#ee3f24">*</text></g><g transform="translate(0,364.8) scale(1,1.0)"><text x="625.84" y="0" font-size="22" fill="#ee3f24">(</text></g><g transform="translate(0,356.5) scale(1,1.0)"><text x="634.9" y="0" font-size="14" fill="#ee3f24">2</text></g><g transform="translate(0,365) scale(1,1.0)"><text x="643.4" y="0" font-size="22" fill="#ee3f24">P</text></g><g transform="translate(0,369.8) scale(1,1.0)"><path d="M763,0 H583 V1147 Q518,1085 412,1023 Q305,961 220,930 V1104 Q371,1175 484,1276 Q597,1377 644,1472 H763 Z" fill="#ee3f24" transform="translate(658.1,0) scale(0.00684,-0.00654)"/><text x="665.88" y="0" font-size="14" fill="#ee3f24">/2</text></g><g transform="translate(0,364.8) scale(1,1.0)"><text x="679.67" y="0" font-size="22" fill="#ee3f24">)</text></g></g>
<g class="t"><g transform="translate(0,394.1) scale(1,1.0)"><text x="545.08" y="0" font-size="22" fill="#3b9ada">CH</text></g><g transform="translate(0,398.1) scale(1,1.0)"><text x="577.37" y="0" font-size="14" fill="#3b9ada">3</text></g><g transform="translate(0,394) scale(1,1.0)"><text x="591.33" y="0" font-size="22" fill="#3b9ada">+</text></g><g transform="translate(0,394.1) scale(1,1.0)"><text x="606.97" y="0" font-size="22" fill="#3b9ada">I</text></g><g transform="translate(0,393.6) scale(1,1.0)"><text x="625.84" y="0" font-size="22" fill="#3b9ada">(</text></g><g transform="translate(0,385) scale(1,1.0)"><text x="635.67" y="0" font-size="14" fill="#3b9ada">3</text></g><g transform="translate(0,394) scale(1,1.0)"><text x="642" y="0" font-size="22" fill="#3b9ada">P</text></g><g transform="translate(0,397.6) scale(1,1.0)"><text x="657.97" y="0" font-size="14" fill="#3b9ada">3/2</text></g><g transform="translate(0,393.6) scale(1,1.0)"><text x="679.07" y="0" font-size="22" fill="#3b9ada">)</text></g></g>
</svg>
</body></html>
